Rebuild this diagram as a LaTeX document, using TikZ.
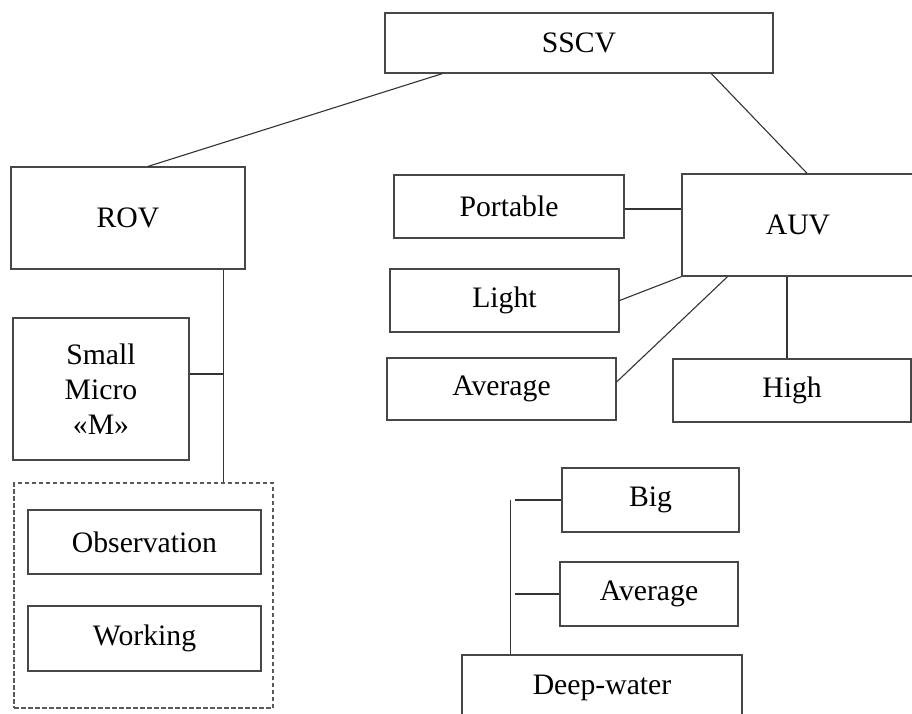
\documentclass[tikz,border=0pt]{standalone}
\usepackage{fontspec}
\setmainfont{Liberation Serif}
\usetikzlibrary{calc}
\tikzset{
  box/.style={draw=black!72, line width=1.2pt, rectangle, inner sep=0pt,
    font=\fontsize{29.7}{35}\selectfont, align=center},
  link/.style={draw=black!80, line width=1.1pt},
  groupbox/.style={draw=black!65, line width=1.2pt, dash pattern=on 4.5pt off 2.5pt,
    rectangle, inner sep=0pt}
}
\begin{document}
\begin{tikzpicture}[x=1pt, y=-1pt]
  \useasboundingbox (0,0) rectangle (912,713);
  \fill[white] (0,0) rectangle (912,713);
  \clip (0,0) rectangle (912,713);

  % top level
  \node[box, minimum width=388pt, minimum height=60pt] (sscv) at (579,43) {SSCV};

  % remotely operated branch
  \node[box, minimum width=234pt, minimum height=102pt] (rov) at (128,218) {ROV};
  \node[box, minimum width=176pt, minimum height=142pt] (small) at (101,389) {Small\\Micro\\«M»};
  \node[groupbox, minimum width=259pt, minimum height=225pt] (grp) at (143.5,595.5) {};
  \node[box, minimum width=233pt, minimum height=64pt] (obs) at (144.5,542) {Observation};
  \node[box, minimum width=233pt, minimum height=65pt] (work) at (144.5,638.5) {Working};

  % autonomous branch
  \node[box, minimum width=232pt, minimum height=102pt] (auv) at (798,225) {AUV};
  \node[box, minimum width=230pt, minimum height=63pt] (port) at (509,206.5) {Portable};
  \node[box, minimum width=229pt, minimum height=63pt] (light) at (504.5,300.5) {Light};
  \node[box, minimum width=229pt, minimum height=62pt] (avgA) at (501.5,389) {Average};
  \node[box, minimum width=238pt, minimum height=63pt] (high) at (792,390.5) {High};

  % deep-water group
  \node[box, minimum width=177pt, minimum height=64pt] (big) at (650.5,500) {Big};
  \node[box, minimum width=178pt, minimum height=64pt] (avgB) at (649,594) {Average};
  \node[box, minimum width=280pt, minimum height=65pt] (deep) at (602,687.5) {Deep-water};

  % connectors from the top box
  \draw[link] ($(sscv.south west)!0.149!(sscv.south east)$) -- ($(rov.north west)!0.585!(rov.north east)$);
  \draw[link] ($(sscv.south west)!0.840!(sscv.south east)$) -- ($(auv.north west)!0.539!(auv.north east)$);

  % ROV trunk and its branches
  \coordinate (rovtrunk) at ($(rov.south west)!0.906!(rov.south east)$);
  \draw[link] (rovtrunk) -- (rovtrunk |- grp.north);
  \draw[link] ($(small.east)+(0,-15)$) -- (rovtrunk |- {$(small.east)+(0,-15)$});

  % AUV classes
  \draw[link] ($(port.east)+(0,2.5)$) -- (auv.west |- {$(port.east)+(0,2.5)$});
  \draw[link] (light.east) -- (auv.south west);
  \draw[link] ($(avgA.east)+(0,-7)$) -- ($(auv.south west)!0.198!(auv.south east)$);
  \coordinate (hightop) at ($(high.north west)!0.479!(high.north east)$);
  \draw[link] (hightop) -- (hightop |- auv.south);

  % deep-water trunk
  \coordinate (deeptrunk) at ($(deep.north west)!0.175!(deep.north east)$);
  \draw[link] (deeptrunk) -- (deeptrunk |- big.west);
  \draw[link] (big.west) -- ++(-46,0);
  \draw[link] (avgB.west) -- ++(-44,0);
\end{tikzpicture}
\end{document}
